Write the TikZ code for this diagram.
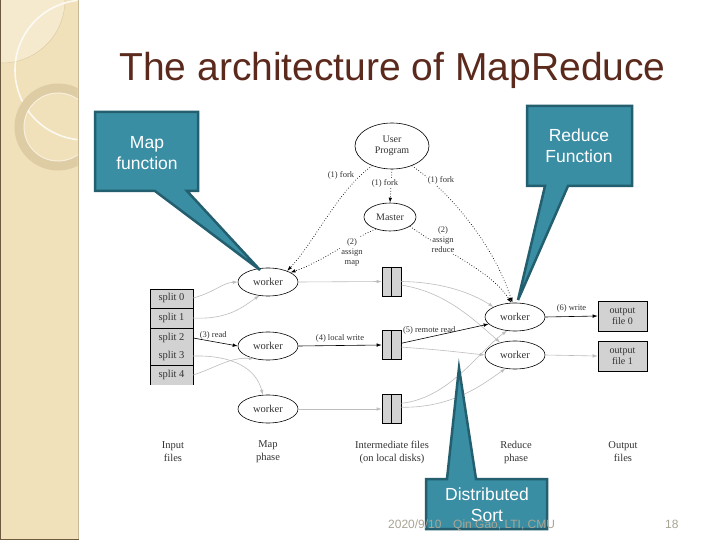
\documentclass[tikz,border=0pt]{standalone}
\usepackage{fontspec}
\setmainfont{Liberation Serif}
\newfontfamily\sansf{Liberation Sans}
\usetikzlibrary{shapes.geometric,arrows.meta}
\definecolor{tealf}{HTML}{3A8EA4}
\definecolor{teald}{HTML}{235F6E}
\definecolor{titlec}{HTML}{5B2A1C}
\definecolor{beige}{HTML}{F1E1BA}
\definecolor{beiged}{HTML}{DDCCA4}
\definecolor{stripline}{HTML}{C9B896}
\definecolor{stripedge}{HTML}{6B5A3E}
\definecolor{footc}{HTML}{A9A594}
\definecolor{boxg}{HTML}{D2D2D2}
\definecolor{lg}{HTML}{BDBDBD}
\definecolor{txt}{HTML}{333333}
\begin{document}
\begin{tikzpicture}[x=1pt,y=-1pt,
  ell/.style={draw=black, line width=0.6pt, ellipse, inner sep=0pt, text=txt,
    font=\fontsize{10.5}{11}\selectfont},
  wrk/.style={ell, minimum width=60pt, minimum height=28pt},
  ifile/.style={draw=black, line width=0.6pt, fill=boxg, rectangle, inner sep=0pt,
    minimum width=19pt, minimum height=29pt},
  ofile/.style={draw=black, line width=0.6pt, fill=boxg, rectangle, inner sep=0pt,
    minimum width=49pt, minimum height=30pt, align=center, text=txt,
    font=\fontsize{10}{11}\selectfont},
  cell/.style={rectangle, inner sep=0pt, minimum width=43pt, minimum height=19pt,
    text=txt, font=\fontsize{10.5}{11}\selectfont},
  lbl/.style={inner sep=1pt, text=txt, font=\fontsize{8.5}{10}\selectfont, align=center},
  phase/.style={inner sep=0pt, text=txt, font=\fontsize{10.5}{13}\selectfont, align=center},
  tip/.style={-{Latex[length=5pt,width=3.5pt]}},
  barr/.style={tip, draw=black, line width=0.6pt},
  garr/.style={tip, draw=lg, line width=0.6pt},
  darr/.style={tip, draw=black, line width=0.7pt, dotted},
  callout/.style={fill=tealf, draw=teald, line width=2.5pt, line join=miter},
  ctext/.style={text=white, align=center, font=\sansf\fontsize{17.5}{21}\selectfont},
  foot/.style={text=footc, inner sep=0pt, font=\sansf\fontsize{12}{14}\selectfont}
]
\useasboundingbox (0,0) rectangle (720,540);
\fill[white] (0,0) rectangle (720,540);
% left decorative strip
\fill[beige] (0,0) rectangle (78,540);
\begin{scope}
  \clip (0,0) rectangle (77.5,540);
  \fill[white, opacity=0.3] (2,0) circle (63);
  \draw[beiged, line width=0.5pt] (2,0) circle (63);
  \draw[white, opacity=0.8, line width=1.6pt] (85,70) circle (70);
  \draw[beiged, line width=9pt] (58,127) circle (39);
  \draw[white, opacity=0.5, line width=1pt] (58,127) circle (34);
\end{scope}
\draw[stripline, line width=1.6pt] (78.5,0) -- (78.5,540);
\draw[stripedge, line width=1pt] (0.5,0) -- (0.5,540);
\draw[stripedge, line width=1pt] (0,539.5) -- (79,539.5);

% title
\node[anchor=base, inner sep=0pt, text=titlec, font=\sansf\fontsize{39}{40}\selectfont]
  (title) at (392.5,81) {The architecture of MapReduce};

% input splits
\fill[boxg] (150,289) rectangle (193,385);
\draw[black, line width=0.6pt] (150,385) -- (150,289) -- (193,289) -- (193,385);
\draw[black, line width=0.6pt] (150,308) -- (193,308) (150,328) -- (193,328) (150,365) -- (193,365);
\node[cell] (s0) at (171.5,298) {split 0};
\node[cell] (s1) at (171.5,318) {split 1};
\node[cell] (s2) at (171.5,338) {split 2};
\node[cell] (s3) at (171.5,356) {split 3};
\node[cell] (s4) at (171.5,375) {split 4};

% nodes
\node[ell, minimum width=74pt, minimum height=46pt, align=center,
  font=\fontsize{10}{11}\selectfont] (up) at (392,146) {User\\Program};
\node[ell, minimum width=52pt, minimum height=28pt,
  font=\fontsize{10}{11}\selectfont] (master) at (390,217) {Master};
\node[wrk] (w1) at (268,282) {worker};
\node[wrk] (w2) at (268,346) {worker};
\node[wrk] (w3) at (268,409) {worker};
\node[wrk] (r1) at (515,317) {worker};
\node[wrk] (r2) at (515,355) {worker};
\node[ifile] (f1) at (391.5,281.5) {};
\node[ifile] (f2) at (391.5,345) {};
\node[ifile] (f3) at (391.5,409) {};
\foreach \f in {f1,f2,f3} \draw[black, line width=0.6pt] (\f.north) -- (\f.south);
\node[ofile] (o0) at (622.5,316) {output\\file 0};
\node[ofile] (o1) at (622.5,356) {output\\file 1};

% split -> map workers
\draw[garr] (s0.east) .. controls (215,292) and (222,283) .. (w1.west);
\draw[garr] (s1.east) .. controls (230,320) and (245,305) .. (w1.238);
\draw[barr] (s2.east) -- node[lbl, above=1pt, pos=0.45] {(3) read} (w2.west);
\draw[garr] (s4.east) .. controls (215,368) and (230,357) .. (w2.222);
\draw[garr] (s3.east) .. controls (232,355) and (256,368) .. (w3.110);
% map workers -> intermediate files
\draw[garr] (w1.east) -- (f1.west);
\draw[barr] (w2.east) -- node[lbl, above=2pt] {(4) local write} (f2.west);
\draw[garr] (w3.east) -- (f3.west);
% intermediate files -> reduce workers
\draw[garr] (f1.east) .. controls (440,282) and (470,292) .. (r1.155);
\draw[garr] (f1.-20) .. controls (445,292) and (472,318) .. (r2.140);
\draw[barr] (f2.10) -- node[lbl, above=2pt, pos=0.32] {(5) remote read} (r1.195);
\draw[garr] (f2.-12) .. controls (440,350) .. (r2.west);
\draw[garr] (f3.30) .. controls (450,398) and (480,350) .. (r1.240);
\draw[garr] (f3.10) .. controls (452,408) and (482,385) .. (r2.235);
% reduce workers -> output files
\draw[barr] (r1.east) -- node[lbl, above=3pt] {(6) write} (o0.west);
\draw[garr] (r2.east) -- (o1.west);

% fork / assign (dotted)
\draw[darr] (up.south) -- (master.north);
\node[lbl, fill=white] (fk2) at (385,183) {(1) fork};
\draw[darr] (up.225) .. controls (338,190) and (316,240) .. (w1.30);
\node[lbl] (fk1) at (341,175) {(1) fork};
\draw[darr] (master.220) .. controls (350,240) and (322,262) .. (w1.23);
\node[lbl, fill=white] (am) at (352,252) {(2)\\assign\\map};
\draw[darr] (up.-45) .. controls (445,188) and (492,240) .. (r1.100);
\node[lbl, fill=white] (fk3) at (441,180) {(1) fork};
\draw[darr] (master.-25) .. controls (452,256) and (492,272) .. (r1.105);
\node[lbl, fill=white] (ar) at (443,240) {(2)\\assign\\reduce};

% phase labels
\node[phase] (pin) at (173,452) {Input\\files};
\node[phase] (pmap) at (268,452) {Map\\phase};
\node[phase] (pint) at (392,452) {Intermediate files\\(on local disks)};
\node[phase] (pred) at (516,452) {Reduce\\phase};
\node[phase] (pout) at (623,452) {Output\\files};

% callouts
\filldraw[callout] (95,112) -- (198,112) -- (198,191) -- (187,191) -- (260,270)
  -- (155,191) -- (95,191) -- cycle;
\node[ctext] (cmap) at (147,153) {Map\\function};
\filldraw[callout] (527,106) -- (632,106) -- (632,186) -- (568,186) -- (518,300)
  -- (545,186) -- (527,186) -- cycle;
\node[ctext] (cred) at (579,146) {Reduce\\Function};
\filldraw[callout] (426,479) -- (447,479) -- (459,368) -- (476,479) -- (547,479)
  -- (547,529) -- (426,529) -- cycle;
\node[ctext] (csort) at (487,505) {Distributed\\Sort};

% footer
\node[foot, anchor=base west] (fd) at (388,528) {2020/9/10};
\node[foot, anchor=base west] (fa) at (453,528) {Qin Gao, LTI, CMU};
\node[foot, anchor=base west] (fp) at (665,528) {18};
\end{tikzpicture}
\end{document}
